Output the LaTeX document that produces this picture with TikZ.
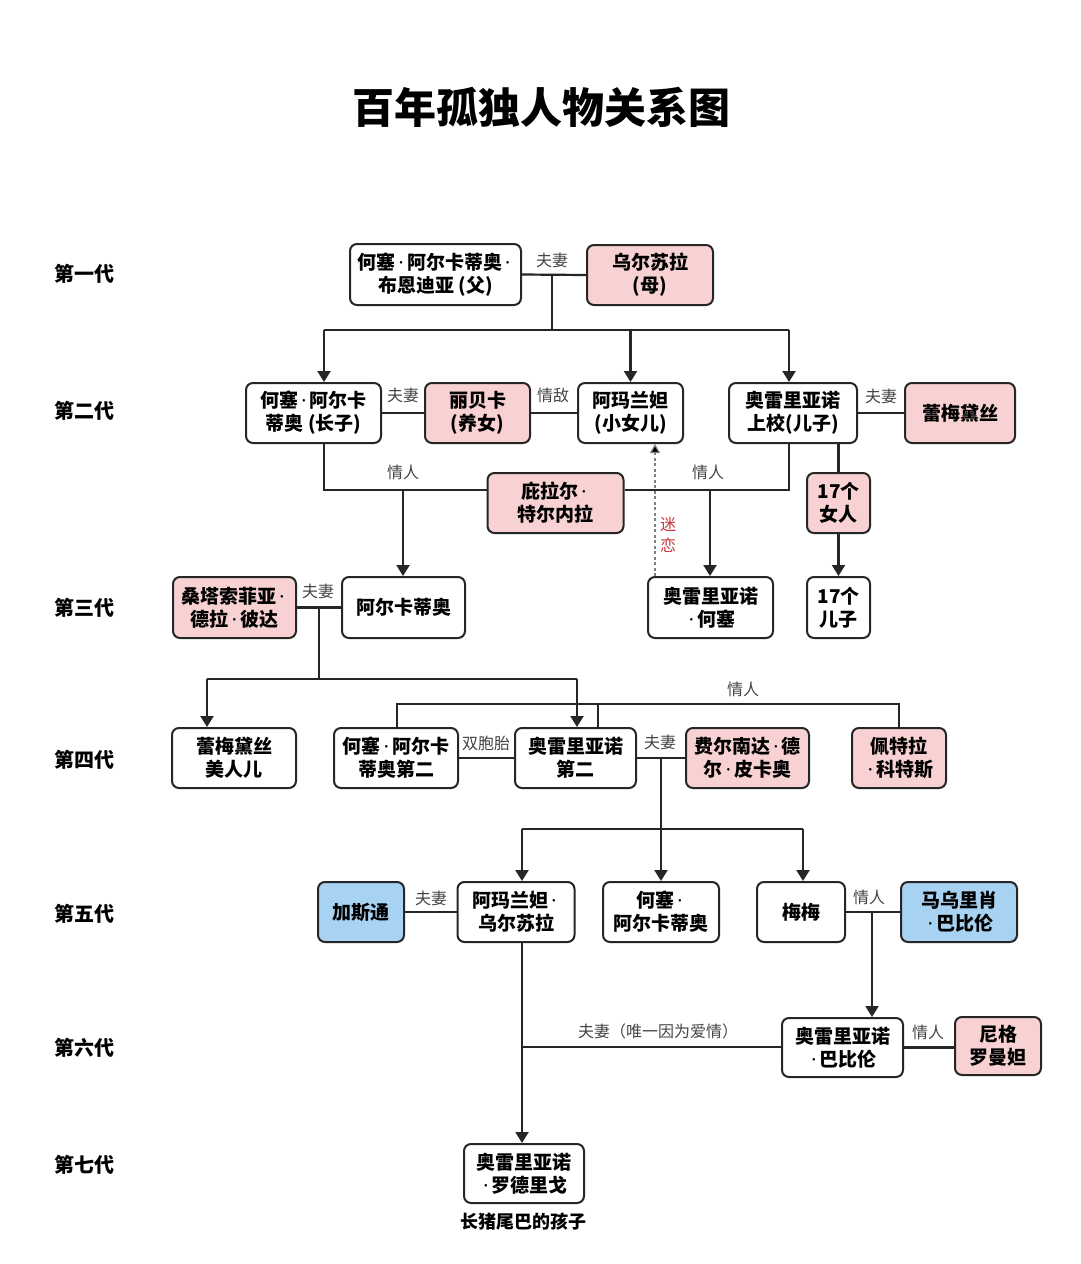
\documentclass[tikz,border=0pt]{standalone}
\usepackage{fontspec}
\setmainfont{Noto Sans CJK SC}
\newfontfamily\latinf{Noto Sans}
\newcommand\md{{\latinf\bfseries\,·\,}}
\usetikzlibrary{arrows.meta}
\definecolor{pinkf}{HTML}{F8D2D2}
\definecolor{bluef}{HTML}{A8D2F2}
\definecolor{edgec}{HTML}{262626}
\definecolor{lblc}{HTML}{454545}
\definecolor{redc}{HTML}{C8383C}
\begin{document}
\begin{tikzpicture}[x=1pt,y=-1pt,
 box/.style={draw=edgec, line width=2pt, rounded corners=7pt, fill=white, align=center, inner sep=0pt, font=\bfseries\fontsize{19}{23}\selectfont},
 pbox/.style={box, fill=pinkf},
 bbox/.style={box, fill=bluef},
 ln/.style={draw=edgec, line width=2.2pt},
 arr/.style={ln, -{Triangle[length=11pt,width=13pt]}},
 rel/.style={font=\fontsize{16}{18}\selectfont, text=lblc, inner sep=1pt},
 gen/.style={font=\bfseries\fontsize{20}{22}\selectfont},
]
\fill[white] (0,0) rectangle (1080,1264);
\useasboundingbox (0,0) rectangle (1080,1264);

\node[font=\bfseries\fontsize{42}{46}\selectfont] (title) at (541,107) {百年孤独人物关系图};

\node[gen] (g1) at (84,274) {第一代};
\node[gen] (g2) at (84,411) {第二代};
\node[gen] (g3) at (84,608) {第三代};
\node[gen] (g4) at (84,760) {第四代};
\node[gen] (g5) at (84,914) {第五代};
\node[gen] (g6) at (84,1048) {第六代};
\node[gen] (g7) at (84,1165) {第七代};

% generation 1
\node[box, minimum width=171pt, minimum height=61pt] (f) at (435.5,274.5) {何塞\md 阿尔卡蒂奥\md\\布恩迪亚 (父)};
\node[pbox, minimum width=126pt, minimum height=60pt] (u) at (650,275) {乌尔苏拉\\(母)};
% generation 2
\node[box, minimum width=135pt, minimum height=60pt] (ja) at (313.5,413) {何塞\md 阿尔卡\\蒂奥 (长子)};
\node[pbox, minimum width=105pt, minimum height=60pt] (reb) at (477.5,413) {丽贝卡\\(养女)};
\node[box, minimum width=105pt, minimum height=60pt] (ama) at (630.5,413) {阿玛兰妲\\(小女儿)};
\node[box, minimum width=128pt, minimum height=60pt] (aur) at (793,413) {奥雷里亚诺\\上校(儿子)};
\node[pbox, minimum width=110pt, minimum height=60pt] (rem) at (960,413) {蕾梅黛丝};
\node[pbox, minimum width=136pt, minimum height=60pt] (pil) at (555.5,503) {庇拉尔\md\\特尔内拉};
\node[pbox, minimum width=63pt, minimum height=60pt] (w17) at (838.5,503) {17个\\女人};
% generation 3
\node[pbox, minimum width=123pt, minimum height=61pt] (ss) at (234.5,607.5) {桑塔索菲亚\md\\德拉\md 彼达};
\node[box, minimum width=123pt, minimum height=61pt] (arc) at (403.5,607.5) {阿尔卡蒂奥};
\node[box, minimum width=125pt, minimum height=61pt] (aj) at (710.5,607.5) {奥雷里亚诺\\\md 何塞};
\node[box, minimum width=63pt, minimum height=61pt] (s17) at (838.5,607.5) {17个\\儿子};
% generation 4
\node[box, minimum width=124pt, minimum height=60pt] (rb) at (234,758) {蕾梅黛丝\\美人儿};
\node[box, minimum width=124pt, minimum height=60pt] (ja2) at (396,758) {何塞\md 阿尔卡\\蒂奥第二};
\node[box, minimum width=121pt, minimum height=60pt] (ar2) at (575.5,758) {奥雷里亚诺\\第二};
\node[pbox, minimum width=123pt, minimum height=60pt] (fer) at (747.5,758) {费尔南达\md 德\\尔\md 皮卡奥};
\node[pbox, minimum width=94pt, minimum height=60pt] (pet) at (899,758) {佩特拉\\\md 科特斯};
% generation 5
\node[bbox, minimum width=86pt, minimum height=60pt] (gas) at (361,912) {加斯通};
\node[box, minimum width=117pt, minimum height=60pt] (au) at (516,912) {阿玛兰妲\md\\乌尔苏拉};
\node[box, minimum width=116pt, minimum height=60pt] (ja3) at (661,912) {何塞\md\\阿尔卡蒂奥};
\node[box, minimum width=88pt, minimum height=60pt] (mm) at (801,912) {梅梅};
\node[bbox, minimum width=116pt, minimum height=60pt] (mau) at (959,912) {马乌里肖\\\md 巴比伦};
% generation 6
\node[box, minimum width=121pt, minimum height=59pt] (ab) at (842.5,1047.5) {奥雷里亚诺\\\md 巴比伦};
\node[pbox, minimum width=86pt, minimum height=58pt] (nig) at (998,1046) {尼格\\罗曼妲};
% generation 7
\node[box, minimum width=120pt, minimum height=59pt] (rod) at (524,1173.5) {奥雷里亚诺\\\md 罗德里戈};
\node[font=\bfseries\fontsize{18}{20}\selectfont] (cap) at (523,1222) {长猪尾巴的孩子};

% connectors gen 1
\draw[ln] (f.east) -- (u.west);
\node[rel] (l1) at (552,260) {夫妻};
\coordinate (m1) at (552,275);
\coordinate (b1) at (552,330);
\coordinate (b1l) at (324,330);
\coordinate (b1r) at (789,330);
\draw[ln] (m1) -- (b1);
\draw[ln] (b1l) -- (b1r);
\draw[arr] (b1l) -- (b1l |- ja.north);
\draw[arr] (ama.north |- b1l) -- (ama.north);
\draw[arr] (b1r) -- (b1r |- aur.north);

% gen 2
\draw[ln] (ja.east) -- (reb.west);
\node[rel] (l2) at (403,395) {夫妻};
\draw[ln] (reb.east) -- (ama.west);
\node[rel] (l3) at (553,395) {情敌};
\draw[ln] (aur.east) -- (rem.west);
\node[rel] (l4) at (881,396) {夫妻};

\coordinate (pl) at (324,490);
\coordinate (pr) at (789,490);
\coordinate (pa) at (403,490);
\coordinate (pb) at (710,490);
\draw[ln] (ja.south -| pl) -- (pl) -- (pl -| pil.west);
\draw[ln] (pr -| pil.east) -- (pr) -- (pr |- aur.south);
\node[rel] (l5) at (403,472) {情人};
\node[rel] (l6) at (708,472) {情人};
\draw[arr] (pa) -- (pa |- arc.north);
\draw[arr] (pb) -- (pb |- aj.north);

\coordinate (dsh) at (655,500);
\draw[draw=gray, line width=1.2pt, dash pattern=on 3pt off 2.5pt, -{Triangle[length=9pt,width=10pt,fill=black]}] (aj.north -| dsh) -- (ama.south -| dsh);
\node[font=\fontsize{16}{21}\selectfont, text=redc, align=center, inner sep=0pt] (mi) at (668,535) {迷\\恋};

\draw[ln] (w17.north |- aur.south) -- (w17.north);
\draw[arr] (w17.south) -- (s17.north);

% gen 3
\draw[ln] (ss.east) -- (arc.west);
\node[rel] (l7) at (318,591) {夫妻};
\coordinate (m3) at (319,608);
\coordinate (b3) at (319,679);
\coordinate (b3l) at (207,679);
\coordinate (b3r) at (577,679);
\draw[ln] (m3) -- (b3);
\draw[ln] (b3l) -- (b3r);
\draw[arr] (b3l) -- (b3l |- rb.north);
\draw[arr] (b3r) -- (b3r |- ar2.north);

% gen 4
\coordinate (lv) at (397,704);
\coordinate (lr) at (899,704);
\coordinate (lm) at (598,704);
\draw[ln] (lv |- ja2.north) -- (lv) -- (lr) -- (lr |- pet.north);
\draw[ln] (lm) -- (lm |- ar2.north);
\node[rel] (l8) at (743,689) {情人};
\draw[ln] (ja2.east) -- (ar2.west);
\node[rel] (l9) at (486,743) {双胞胎};
\draw[ln] (ar2.east) -- (fer.west);
\node[rel] (l10) at (660,742) {夫妻};
\coordinate (m4) at (661,758);
\coordinate (b4) at (661,829);
\coordinate (b4l) at (522,829);
\coordinate (b4r) at (803,829);
\draw[ln] (m4) -- (b4);
\draw[ln] (b4l) -- (b4r);
\draw[arr] (b4l) -- (b4l |- au.north);
\draw[arr] (b4) -- (b4 |- ja3.north);
\draw[arr] (b4r) -- (b4r |- mm.north);

% gen 5
\draw[ln] (gas.east) -- (au.west);
\node[rel] (l11) at (431,898) {夫妻};
\draw[ln] (mm.east) -- (mau.west);
\node[rel] (l12) at (869,897) {情人};
\coordinate (m5) at (872,912);
\draw[arr] (m5) -- (m5 |- ab.north);

% gen 6
\draw[ln] (ab.east) -- (ab.east -| nig.west);
\node[rel] (l13) at (928,1032) {情人};
\coordinate (m6) at (522,1047);
\draw[ln] (m6) -- (m6 -| ab.west);
\node[rel] (l14) at (658,1031) {夫妻（唯一因为爱情）};
\draw[arr] (au.south -| m6) -- (m6 |- rod.north);
\end{tikzpicture}
\end{document}
